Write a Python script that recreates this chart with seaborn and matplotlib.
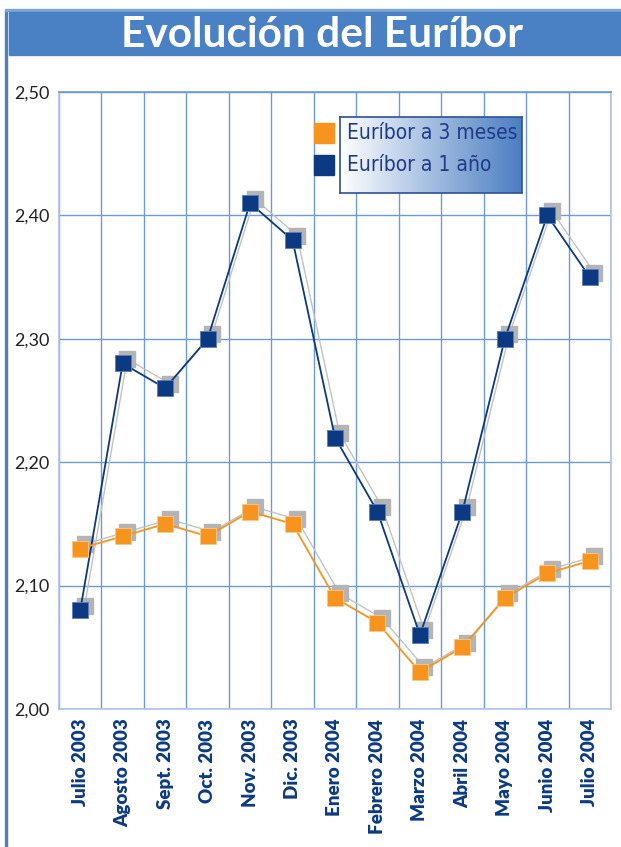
import numpy as np
import pandas as pd
import matplotlib
matplotlib.use("Agg")
import matplotlib.pyplot as plt
import matplotlib.transforms as mtransforms
from matplotlib.patches import Rectangle
from matplotlib.colors import LinearSegmentedColormap
import seaborn as sns

# data
months = ["Julio 2003", "Agosto 2003", "Sept. 2003", "Oct. 2003", "Nov. 2003",
          "Dic. 2003", "Enero 2004", "Febrero 2004", "Marzo 2004", "Abril 2004",
          "Mayo 2004", "Junio 2004", "Julio 2004"]
euribor_3m = [2.13, 2.14, 2.15, 2.14, 2.16, 2.15, 2.09, 2.07, 2.03, 2.05, 2.09, 2.11, 2.12]
euribor_1y = [2.08, 2.28, 2.26, 2.30, 2.41, 2.38, 2.22, 2.16, 2.06, 2.16, 2.30, 2.40, 2.35]
yticks = [2.00, 2.10, 2.20, 2.30, 2.40, 2.50]
series_names = ["Euríbor a 3 meses", "Euríbor a 1 año"]

orange = "#f7941d"
navy = "#0b3a82"
band = "#4a80c4"
grid_col = "#6b9ad6"
shadow = "#b4b4b4"

sns.set_style("white")
plt.rcParams["font.family"] = ["Lato", "DejaVu Sans"]

df = pd.DataFrame({"pos": np.arange(len(months)), "m3": euribor_3m, "y1": euribor_1y})

fig = plt.figure(figsize=(6.21, 8.47), dpi=100)
W, H = 621, 847

# outer frame + title band
fig.patches.append(Rectangle((5 / W, 0), 2.5 / W, 1 - 10 / H, transform=fig.transFigure,
                             color=band, zorder=0))
fig.patches.append(Rectangle((5 / W, 1 - 11 / H), 1, 1.5 / H, transform=fig.transFigure,
                             color="#7fa5d6", zorder=0))
fig.patches.append(Rectangle((9 / W, 1 - 55 / H), 1, 43 / H, transform=fig.transFigure,
                             color=band, zorder=0))
fig.text(0.519, 1 - 35 / H, "Evolución del Euríbor", color="white", fontsize=30.5,
         fontweight="bold", ha="center", va="center")

ax = fig.add_axes([59 / W, 1 - 709 / H, (611 - 59) / W, (709 - 92) / H])

# shadows: same data drawn a few pixels up and right
off = mtransforms.offset_copy(ax.transData, fig=fig, x=4.5, y=4.5, units="dots")
for col in ["y1", "m3"]:
    ax.plot(df["pos"], df[col], color="#c2c2c2", lw=1.0, marker="s", ms=12,
            mfc=shadow, mec=shadow, transform=off, zorder=2)

sns.lineplot(data=df, x="pos", y="y1", ax=ax, color=navy, lw=1.3, marker="s",
             markersize=12, markeredgecolor="#5a7fbf", markeredgewidth=0.6, zorder=4)
sns.lineplot(data=df, x="pos", y="m3", ax=ax, color=orange, lw=1.3, marker="s",
             markersize=12, markeredgecolor="#fbc98a", markeredgewidth=0.6, zorder=4)

ax.set_xlim(-0.5, len(months) - 0.5)
ax.set_ylim(2.0, 2.5)
ax.set_xticks(df["pos"])
ax.set_xticklabels(months, rotation=90, color=navy, fontweight="heavy", fontsize=13.5)
ax.set_yticks(yticks)
ax.set_yticklabels([f"{v:.2f}".replace(".", ",") for v in yticks], fontsize=13, color="#222222")
ax.tick_params(length=0, pad=7)
ax.set_xticks(np.arange(len(months) + 1) - 0.5, minor=True)
ax.grid(True, which="minor", axis="x", color=grid_col, lw=1.0, zorder=0)
ax.grid(True, which="major", axis="y", color=grid_col, lw=1.0, zorder=0)
ax.grid(False, which="major", axis="x")
ax.set_xlabel("")
ax.set_ylabel("")
for s in ax.spines.values():
    s.set_color("#a9c4e8")
    s.set_linewidth(1.2)
ax.spines["top"].set_color(grid_col)

# legend: gradient box with squares to its left
lax = fig.add_axes([340 / W, 1 - 193 / H, (522 - 340) / W, (193 - 117) / H])
grad = np.linspace(0, 1, 256).reshape(1, -1)
cmap = LinearSegmentedColormap.from_list("g", ["#ffffff", "#4a7ec2"])
lax.imshow(grad, aspect="auto", cmap=cmap, extent=[0, 1, 0, 1])
lax.set_xticks([])
lax.set_yticks([])
for s in lax.spines.values():
    s.set_color("#2e4f9a")
    s.set_linewidth(1.2)
for i, (name, c) in enumerate(zip(series_names, [orange, navy])):
    yc = 1 - (133 + 32 * i) / H
    fig.patches.append(Rectangle((314 / W, yc - 10 / H), 20 / W, 20 / H,
                                 transform=fig.transFigure, color=c, zorder=5))
    fig.text(347 / W, yc, name, color="#1f3a8a", fontsize=15, va="center",
             family="DejaVu Sans", fontstretch="condensed")

fig.savefig("out.png", dpi=100)
